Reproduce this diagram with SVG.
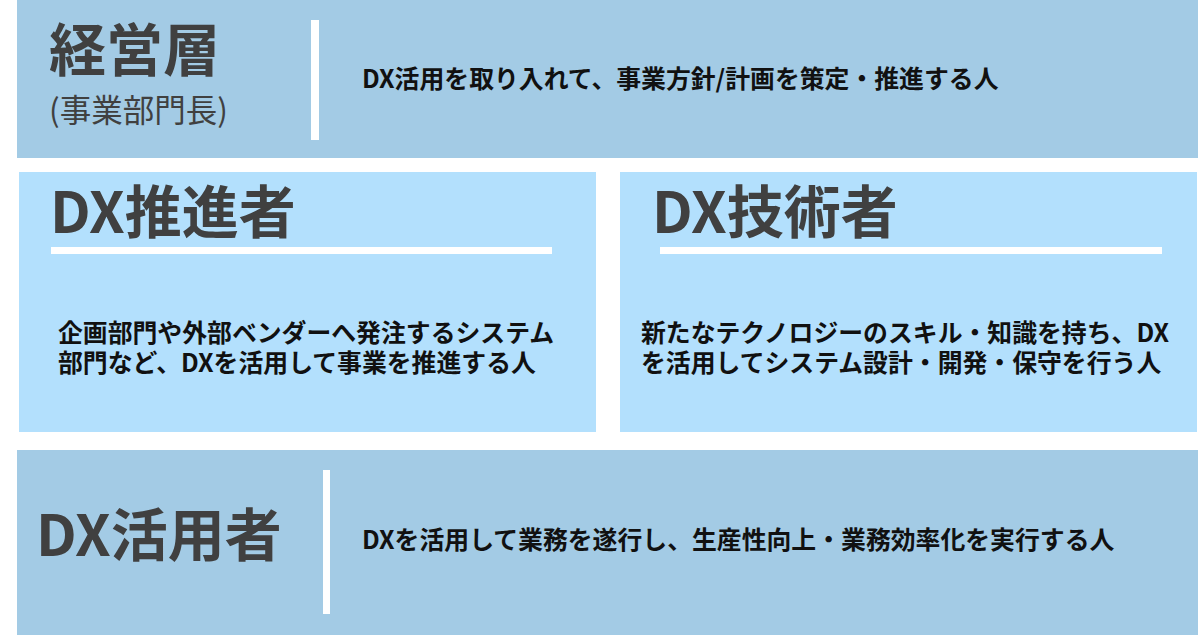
<svg xmlns="http://www.w3.org/2000/svg" width="1200" height="635" viewBox="0 0 1200 635">
<style>
.band{fill:#a3cbe5}
.box{fill:#b3e0fd}
.bar{fill:#ffffff}
.title{font-family:"Noto Sans CJK JP","Noto Sans",sans-serif;font-weight:700;font-size:57px;fill:#404040}
.sub{font-family:"Noto Sans CJK JP","Noto Sans",sans-serif;font-weight:400;font-size:31.5px;fill:#404040}
.body{font-family:"Noto Sans CJK JP","Noto Sans",sans-serif;font-weight:700;font-size:24.85px;fill:#111111}
</style>
<rect x="0" y="0" width="1200" height="635" fill="#ffffff"/>
<g id="management">
<rect class="band" x="17" y="0" width="1181" height="158"/>
<text class="title" x="49" y="71">経営層</text>
<text class="sub" x="49" y="122">(事業部門長)</text>
<rect class="bar" x="311" y="20" width="8" height="120"/>
<text class="body" x="362" y="88">DX活用を取り入れて、事業方針/計画を策定・推進する人</text>
</g>
<g id="promoter">
<rect class="box" x="19" y="172" width="577" height="260"/>
<text class="title" x="50" y="233">DX推進者</text>
<rect class="bar" x="51" y="247" width="501" height="7"/>
<text class="body"><tspan x="58" y="342">企画部門や外部ベンダーへ発注するシステム</tspan><tspan x="58" y="372">部門など、DXを活用して事業を推進する人</tspan></text>
</g>
<g id="engineer">
<rect class="box" x="620" y="172" width="577" height="260"/>
<text class="title" x="652" y="233">DX技術者</text>
<rect class="bar" x="660" y="247" width="502" height="7"/>
<text class="body"><tspan x="641" y="342">新たなテクノロジーのスキル・知識を持ち、DX</tspan><tspan x="641" y="372">を活用してシステム設計・開発・保守を行う人</tspan></text>
</g>
<g id="user">
<rect class="band" x="17" y="450" width="1181" height="185"/>
<text class="title" x="36" y="556">DX活用者</text>
<rect class="bar" x="323" y="470" width="7" height="144"/>
<text class="body" x="362" y="549">DXを活用して業務を遂行し、生産性向上・業務効率化を実行する人</text>
</g>
<g id="connectors"/>
</svg>
